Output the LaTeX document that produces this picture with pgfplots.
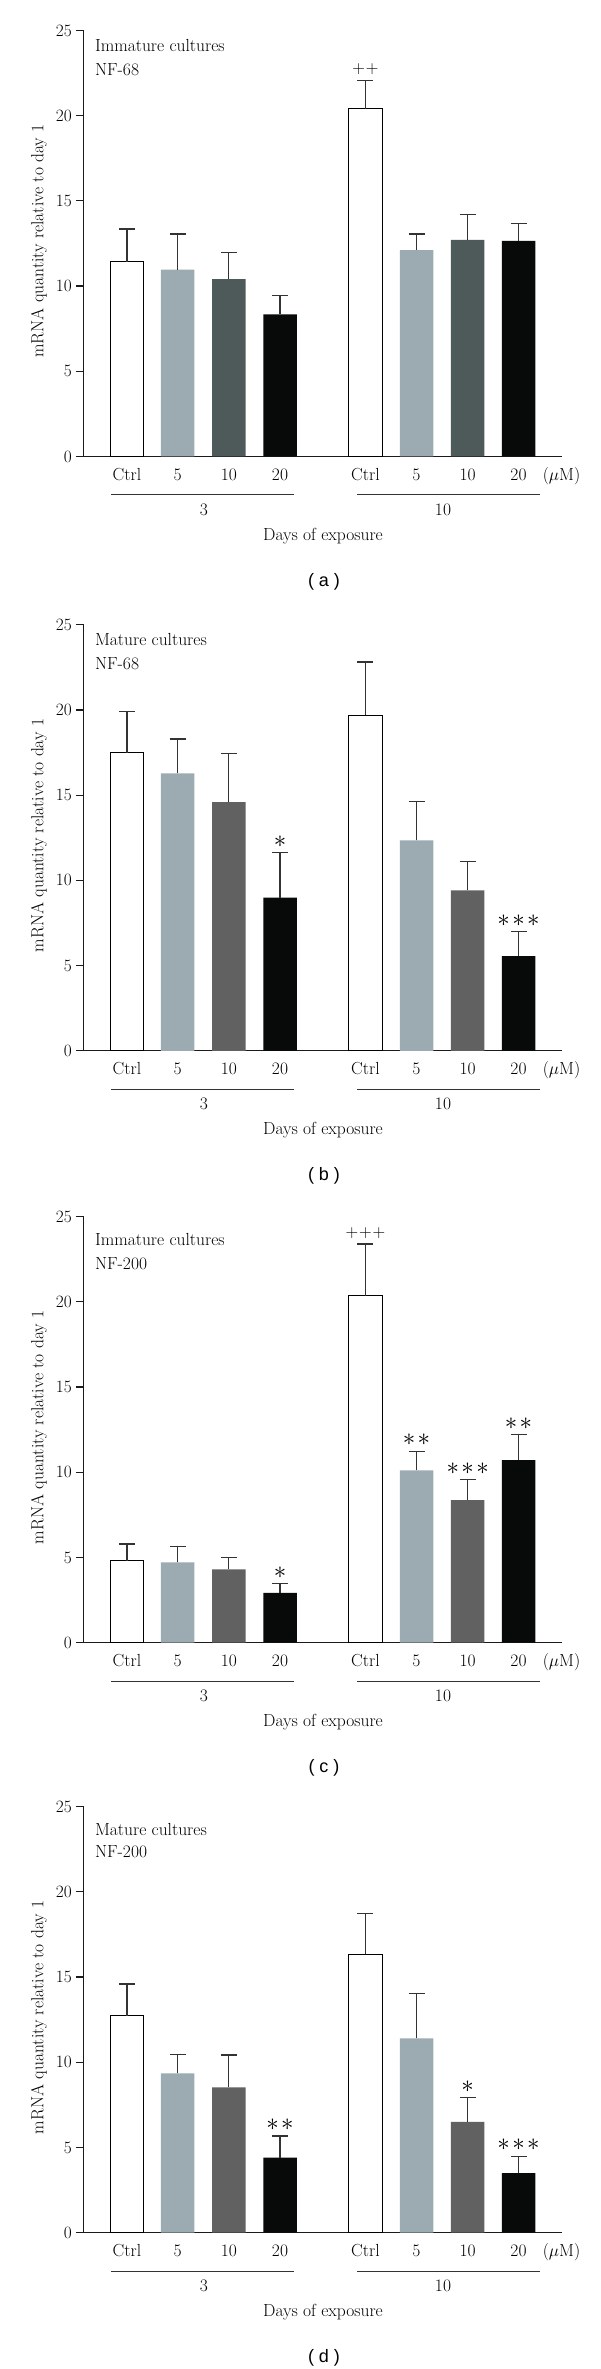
\documentclass[border=0pt]{standalone}
\usepackage{fontspec}
\newfontfamily\labelfont{Liberation Sans}
\usepackage{pgfplots}
\pgfplotsset{compat=1.18}
\definecolor{cfive}{HTML}{9BABB1}
\definecolor{ctenA}{HTML}{4E5A5A}
\definecolor{cten}{HTML}{616161}
\definecolor{ctwenty}{HTML}{080A09}
\definecolor{errc}{HTML}{333333}
\definecolor{axc}{HTML}{1A1A1A}

\pgfplotsset{
  panel/.style={
    scale only axis, width=478.5pt, height=426pt,
    anchor=south west,
    xmin=83.8, xmax=562.3, ymin=0, ymax=25,
    axis x line=bottom, axis y line=left,
    axis line style={-, line width=1.2pt, color=axc},
    xtick=\empty,
    ytick={0,5,10,15,20,25},
    tick align=outside, major tick length=7.5pt,
    y tick style={line width=1.2pt, color=axc},
    yticklabel style={xshift=-1pt},
    clip=false,
    every axis plot/.append style={ybar, bar width=33.5, bar shift=0pt,
      error bars/y dir=plus, error bars/y explicit,
      error bars/error mark=|,
      error bars/error bar style={line width=1.3pt, color=errc},
      error bars/error mark options={mark size=8pt, line width=1.3pt, color=errc}},
  },
}
\newcommand\xlabs[1]{%
  \node[anchor=base] at ([yshift=-24pt]axis cs:126.9,0) {Ctrl};
  \node[anchor=base] at ([yshift=-24pt]axis cs:177.7,0) {5};
  \node[anchor=base] at ([yshift=-24pt]axis cs:228.8,0) {10};
  \node[anchor=base] at ([yshift=-24pt]axis cs:280.0,0) {20};
  \node[anchor=base] at ([yshift=-24pt]axis cs:365.4,0) {Ctrl};
  \node[anchor=base] at ([yshift=-24pt]axis cs:416.5,0) {5};
  \node[anchor=base] at ([yshift=-24pt]axis cs:467.7,0) {10};
  \node[anchor=base] at ([yshift=-24pt]axis cs:518.5,0) {20};
  \node[anchor=base] at ([yshift=-24pt]axis cs:561.5,0) {($\mu$M)};
  \draw[line width=1pt, color=errc] ([yshift=-38.5pt]axis cs:110.8,0) -- ([yshift=-38.5pt]axis cs:294.2,0);
  \draw[line width=1pt, color=errc] ([yshift=-38.5pt]axis cs:357.0,0) -- ([yshift=-38.5pt]axis cs:540.4,0);
  \node[anchor=base] at ([yshift=-58.8pt]axis cs:203.8,0) {3};
  \node[anchor=base] at ([yshift=-58.8pt]axis cs:443.0,0) {10};
  \node[anchor=base] at ([yshift=-83.8pt]axis cs:323.0,0) {Days of exposure};
  \node[anchor=base, font=\labelfont\fontsize{18}{20}\selectfont] at ([yshift=-130pt]axis cs:324.0,0) {( #1 )};
  \node[rotate=90, anchor=base] at ([xshift=-40.5pt, yshift=2.4pt]rel axis cs:0,0.5) {mRNA quantity relative to day 1};
}
\newcommand\sone{\fontsize{26}{26}\selectfont$\ast$}
\newcommand\stwo{\fontsize{26}{26}\selectfont$\ast$\hspace{2.5pt}$\ast$}
\newcommand\sthree{\fontsize{26}{26}\selectfont$\ast$\hspace{2.5pt}$\ast$\hspace{2.5pt}$\ast$}

\begin{document}
\begin{tikzpicture}[font=\fontsize{17.5}{21}\selectfont]
\useasboundingbox (0,0) rectangle (600pt,2369pt);

% ---------- (a)
\begin{axis}[panel, at={(83.8pt,1912.5pt)}]
\addplot[fill=white, draw=black, line width=1.2pt] coordinates {(126.9,11.43) +- (0,1.92) (365.4,20.40) +- (0,1.67)};
\addplot[fill=cfive, draw=none] coordinates {(177.7,10.96) +- (0,2.09) (416.5,12.11) +- (0,0.94)};
\addplot[fill=ctenA, draw=none] coordinates {(228.8,10.41) +- (0,1.58) (467.7,12.71) +- (0,1.49)};
\addplot[fill=ctwenty, draw=none] coordinates {(280.0,8.34) +- (0,1.11) (518.5,12.65) +- (0,1.01)};
\xlabs{a}
\node[anchor=base west] at ([xshift=7.7pt, yshift=-20.8pt]rel axis cs:0,1) {Immature cultures};
\node[anchor=base west] at ([xshift=7.7pt, yshift=-45pt]rel axis cs:0,1) {NF-68};
\node at ([yshift=11pt]axis cs:365.4,22.07) {+\hspace{1pt}+};
\end{axis}

% ---------- (b)
\begin{axis}[panel, at={(83.8pt,1318.2pt)}]
\addplot[fill=white, draw=black, line width=1.2pt] coordinates {(126.9,17.50) +- (0,2.42) (365.4,19.69) +- (0,3.12)};
\addplot[fill=cfive, draw=none] coordinates {(177.7,16.28) +- (0,2.01) (416.5,12.35) +- (0,2.26)};
\addplot[fill=cten, draw=none] coordinates {(228.8,14.59) +- (0,2.87) (467.7,9.42) +- (0,1.69)};
\addplot[fill=ctwenty, draw=none] coordinates {(280.0,8.99) +- (0,2.64) (518.5,5.56) +- (0,1.44)};
\xlabs{b}
\node[anchor=base west] at ([xshift=7.7pt, yshift=-20.8pt]rel axis cs:0,1) {Mature cultures};
\node[anchor=base west] at ([xshift=7.7pt, yshift=-45pt]rel axis cs:0,1) {NF-68};
\node at ([yshift=11pt]axis cs:280.0,11.63) {\sone};
\node at ([yshift=11pt]axis cs:518.5,7.00) {\sthree};
\end{axis}

% ---------- (c)
\begin{axis}[panel, at={(83.8pt,726.3pt)}]
\addplot[fill=white, draw=black, line width=1.2pt] coordinates {(126.9,4.82) +- (0,0.97) (365.4,20.36) +- (0,3.03)};
\addplot[fill=cfive, draw=none] coordinates {(177.7,4.71) +- (0,0.95) (416.5,10.11) +- (0,1.13)};
\addplot[fill=cten, draw=none] coordinates {(228.8,4.30) +- (0,0.72) (467.7,8.37) +- (0,1.22)};
\addplot[fill=ctwenty, draw=none] coordinates {(280.0,2.92) +- (0,0.56) (518.5,10.72) +- (0,1.50)};
\xlabs{c}
\node[anchor=base west] at ([xshift=7.7pt, yshift=-28.5pt]rel axis cs:0,1) {Immature cultures};
\node[anchor=base west] at ([xshift=7.7pt, yshift=-53pt]rel axis cs:0,1) {NF-200};
\node at ([yshift=11pt]axis cs:365.4,23.39) {+\hspace{1pt}+\hspace{1pt}+};
\node at ([yshift=11pt]axis cs:280.0,3.48) {\sone};
\node at ([yshift=11pt]axis cs:416.5,11.24) {\stwo};
\node at ([yshift=11pt]axis cs:467.7,9.59) {\sthree};
\node at ([yshift=11pt]axis cs:518.5,12.22) {\stwo};
\end{axis}

% ---------- (d)
\begin{axis}[panel, at={(83.8pt,136.3pt)}]
\addplot[fill=white, draw=black, line width=1.2pt] coordinates {(126.9,12.73) +- (0,1.87) (365.4,16.33) +- (0,2.40)};
\addplot[fill=cfive, draw=none] coordinates {(177.7,9.35) +- (0,1.10) (416.5,11.41) +- (0,2.62)};
\addplot[fill=cten, draw=none] coordinates {(228.8,8.53) +- (0,1.89) (467.7,6.50) +- (0,1.44)};
\addplot[fill=ctwenty, draw=none] coordinates {(280.0,4.40) +- (0,1.28) (518.5,3.49) +- (0,1.00)};
\xlabs{d}
\node[anchor=base west] at ([xshift=7.7pt, yshift=-29.2pt]rel axis cs:0,1) {Mature cultures};
\node[anchor=base west] at ([xshift=7.7pt, yshift=-50.4pt]rel axis cs:0,1) {NF-200};
\node at ([yshift=11pt]axis cs:280.0,5.68) {\stwo};
\node at ([yshift=11pt]axis cs:467.7,7.94) {\sone};
\node at ([yshift=11pt]axis cs:518.5,4.49) {\sthree};
\end{axis}
\end{tikzpicture}
\end{document}
